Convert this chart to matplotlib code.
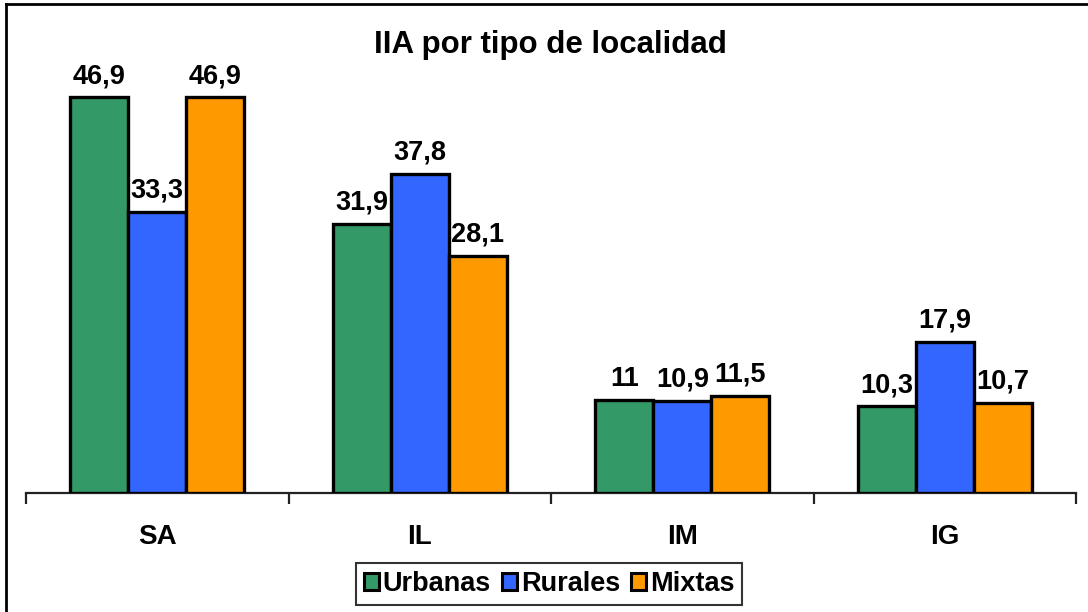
import matplotlib
matplotlib.use("Agg")
import matplotlib.pyplot as plt
from matplotlib.patches import Patch
import numpy as np

plt.rcParams['font.family'] = ['Liberation Sans', 'DejaVu Sans']

categories = ["SA", "IL", "IM", "IG"]
series_names = ["Urbanas", "Rurales", "Mixtas"]
urbanas = [46.9, 31.9, 11, 10.3]
rurales = [33.3, 37.8, 10.9, 17.9]
mixtas = [46.9, 28.1, 11.5, 10.7]
colors = ["#339966", "#3366FF", "#FF9900"]
title = "IIA por tipo de localidad"

W, H = 1088, 612
fig = plt.figure(figsize=(W/100, H/100), dpi=100)
ax = fig.add_axes([26/W, 1-493/H, (1076-26)/W, (493-60)/H])
ppu = 396/46.9

x = np.arange(len(categories))
bw = 58/262.5
for i, (vals, c) in enumerate(zip([urbanas, rurales, mixtas], colors)):
    pos = x + (i-1)*bw
    ax.bar(pos, vals, width=bw, color=c, edgecolor="black", linewidth=2.4, zorder=3)
    for p, v in zip(pos, vals):
        lbl = (f"{v:g}").replace(".", ",")
        ax.text(p, v + 8/ppu, lbl, ha="center", va="bottom", fontsize=19.5,
                fontweight="bold", zorder=4)

ax.set_xlim(-0.5, len(categories)-0.5)
ax.set_ylim(0, (493-60)/ppu)
for s in ["top", "right", "left"]:
    ax.spines[s].set_visible(False)
ax.spines["bottom"].set_linewidth(1.6)
ax.spines["bottom"].set_color("#222222")
ax.set_yticks([])
ax.set_xticks(np.arange(len(categories)+1) - 0.5)
ax.set_xticklabels([])
ax.tick_params(axis="x", direction="out", length=8, width=1.6, color="#222222")
for xi, c in zip(x, categories):
    ax.text(xi, -44/ppu, c, ha="center", va="center", fontsize=20, fontweight="bold",
            clip_on=False)

fig.text(550/W, 1-45/H, title, ha="center", va="center", fontsize=22.5, fontweight="bold")

handles = [Patch(facecolor=c, edgecolor="black", linewidth=2.2) for c in colors]
leg = fig.legend(handles, series_names, loc="center", bbox_to_anchor=(549/W, 1-584/H),
                 ncol=3, frameon=True, fancybox=False, edgecolor="black",
                 prop={"size": 19.5, "weight": "bold"}, handlelength=0.55, handleheight=0.55,
                 handletextpad=0.15, columnspacing=0.4, borderpad=0.3, borderaxespad=0)
leg.get_frame().set_linewidth(1.5)

# outer border (left and top)
fig.add_artist(plt.Line2D([6/W, 6/W], [0, 1-4/H], color="black", linewidth=2, transform=fig.transFigure))
fig.add_artist(plt.Line2D([6/W, 1], [1-4/H, 1-4/H], color="black", linewidth=2, transform=fig.transFigure))

fig.savefig("out.png", dpi=100)
